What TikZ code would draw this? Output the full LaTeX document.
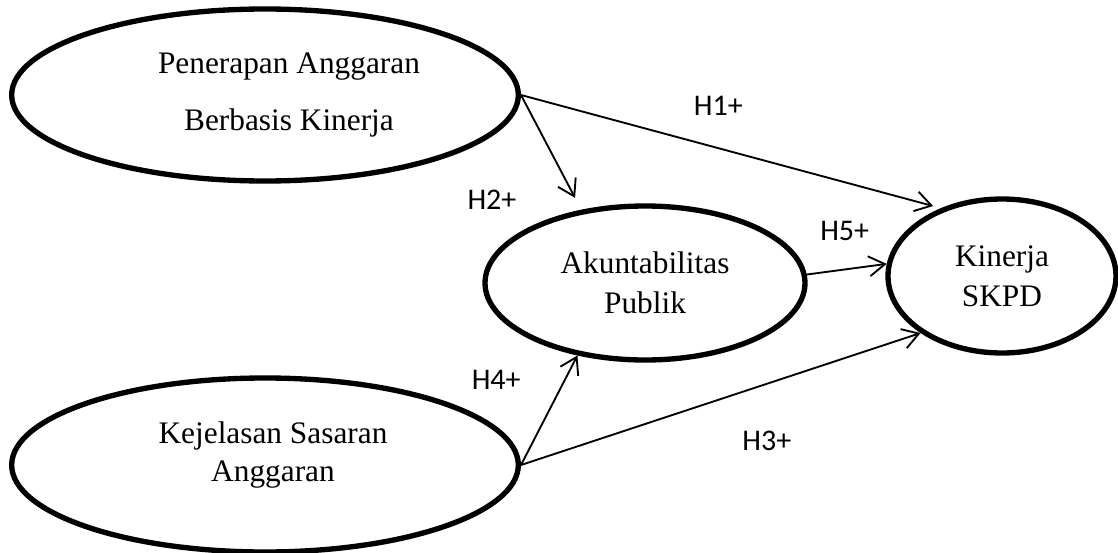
\documentclass[tikz,border=0pt]{standalone}
\usepackage{fontspec}
\setmainfont{Liberation Serif}
\newfontfamily\hypfont{Carlito}
\usetikzlibrary{shapes.geometric,positioning,arrows.meta}

\begin{document}
\begin{tikzpicture}[>={Straight Barb[length=12pt,width=15pt]}, on grid,
    var/.style={draw, ellipse, line width=4pt, inner sep=0pt},
    vtext/.style={font=\fontsize{23.5}{30}\selectfont, align=center},
    hyp/.style={font=\hypfont\fontsize{22.5}{26}\selectfont, anchor=center},
    link/.style={->, line width=1.4pt}]
   \useasboundingbox (0,0) rectangle (838.5pt,-414.75pt);
   \node[var, minimum width=380pt, minimum height=129pt,
         label={[vtext, font=\fontsize{23.5}{43}\selectfont, xshift=18pt]center:{Penerapan Anggaran\\Berbasis Kinerja}}]
         (pba) at (198.75pt,-71.25pt) {};
   \node[var, minimum width=380pt, minimum height=130.5pt,
         label={[vtext, font=\fontsize{23.5}{28}\selectfont, xshift=6pt, yshift=7.5pt]center:{Kejelasan Sasaran\\Anggaran}}]
         (ksa) [below=277.5pt of pba] {};
   \node[var, vtext, minimum width=240pt, minimum height=115.5pt] (akun) [below right=141pt and 285pt of pba] {Akuntabilitas\\Publik};
   \node[var, vtext, minimum width=171pt, minimum height=115.5pt] (kin) [right=267.75pt of akun, yshift=5.25pt] {Kinerja\\SKPD};
   \path[link]
    (pba.east) edge[shorten >=6pt] node[hyp, pos=.47, yshift=31.5pt] {H1+} (kin.132)
               edge[shorten >=10pt] node[hyp, pos=.9, xshift=-62.5pt, yshift=-1.5pt] {H2+} (akun.131)
    (akun.3)   edge node[hyp, pos=.5, xshift=-1.5pt, yshift=28.5pt] {H5+} (kin.174)
    (ksa.east) edge node[hyp, pos=.5, xshift=-39.75pt, yshift=22.5pt] {H4+} (akun.227)
               edge node[hyp, pos=.5, xshift=34.5pt, yshift=-31.5pt] {H3+} (kin.215);
\end{tikzpicture}
\end{document}
